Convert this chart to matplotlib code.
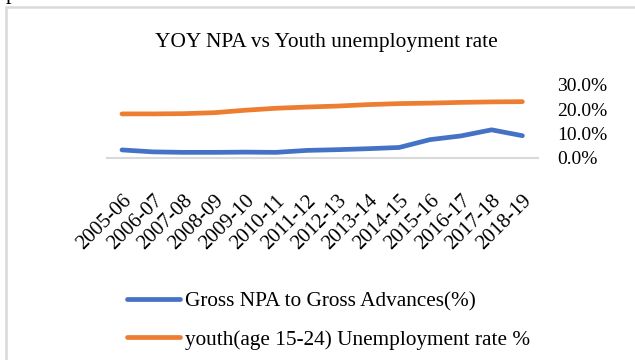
import matplotlib
matplotlib.use("Agg")
import matplotlib.pyplot as plt
from matplotlib.patches import Rectangle
from matplotlib.ticker import FuncFormatter, FixedLocator

years = ["2005-06", "2006-07", "2007-08", "2008-09", "2009-10", "2010-11", "2011-12",
         "2012-13", "2013-14", "2014-15", "2015-16", "2016-17", "2017-18", "2018-19"]
gross_npa = [3.3, 2.5, 2.3, 2.3, 2.4, 2.3, 3.1, 3.4, 3.8, 4.3, 7.5, 9.0, 11.5, 9.1]
youth_unemp = [18.0, 18.0, 18.1, 18.5, 19.5, 20.3, 20.8, 21.2, 21.8, 22.2, 22.4, 22.7, 22.9, 23.0]
yticks = [0, 10, 20, 30]

W, H = 635, 360
plt.rcParams['font.family'] = ['Liberation Serif', 'DejaVu Serif']
fig = plt.figure(figsize=(W / 100, H / 100), dpi=100)

def fx(px):
    return px / W

def fy(py):
    return 1 - py / H

# outer chart border
fig.patches.append(Rectangle((fx(6), fy(H + 20)), fx(W + 20), (H + 20 - 7) / H,
                             transform=fig.transFigure, fill=False,
                             edgecolor='#D9D9D9', linewidth=1.8, zorder=0))
# cut-off text at top
fig.text(fx(6), fy(-1), "period.", fontsize=16, va='baseline', ha='left', color='black')

left, right = 106.6, 537.8
top, bottom = 84.5, 158.0
ax = fig.add_axes([fx(left), fy(bottom), fx(right - left), (bottom - top) / H])

x = list(range(len(years)))
ax.plot(x, gross_npa, color='#4472C4', linewidth=3.4, solid_capstyle='round',
        solid_joinstyle='round', label="Gross NPA to Gross Advances(%)")
ax.plot(x, youth_unemp, color='#ED7D31', linewidth=3.4, solid_capstyle='round',
        solid_joinstyle='round', label="youth(age 15-24) Unemployment rate %")

ax.set_xlim(-0.5, len(years) - 0.5)
ax.set_ylim(0, 30)
for s in ['top', 'right', 'left']:
    ax.spines[s].set_visible(False)
ax.spines['bottom'].set_color('#D9D9D9')
ax.spines['bottom'].set_linewidth(1.5)

ax.yaxis.tick_right()
ax.yaxis.set_major_locator(FixedLocator(yticks))
ax.yaxis.set_major_formatter(FuncFormatter(lambda v, p: f"{v:.1f}%"))
ax.tick_params(axis='y', length=0, pad=14, labelsize=14)
for lab in ax.get_yticklabels():
    lab.set_ha('left')

ax.set_xticks(x)
ax.set_xticklabels(years, rotation=45, ha='right', rotation_mode='anchor', fontsize=15)
ax.tick_params(axis='x', length=0, pad=24)

fig.text(fx(326), fy(42), "YOY NPA vs Youth unemployment rate", ha='center', va='center',
         fontsize=15.4)

leg = fig.legend(loc='upper left', bbox_to_anchor=(fx(127), fy(292)), ncol=1, frameon=False,
                 fontsize=15.3, handlelength=2.5, handletextpad=0.24, labelspacing=0.85,
                 borderaxespad=0, borderpad=0)

fig.savefig("out.png", dpi=100)
